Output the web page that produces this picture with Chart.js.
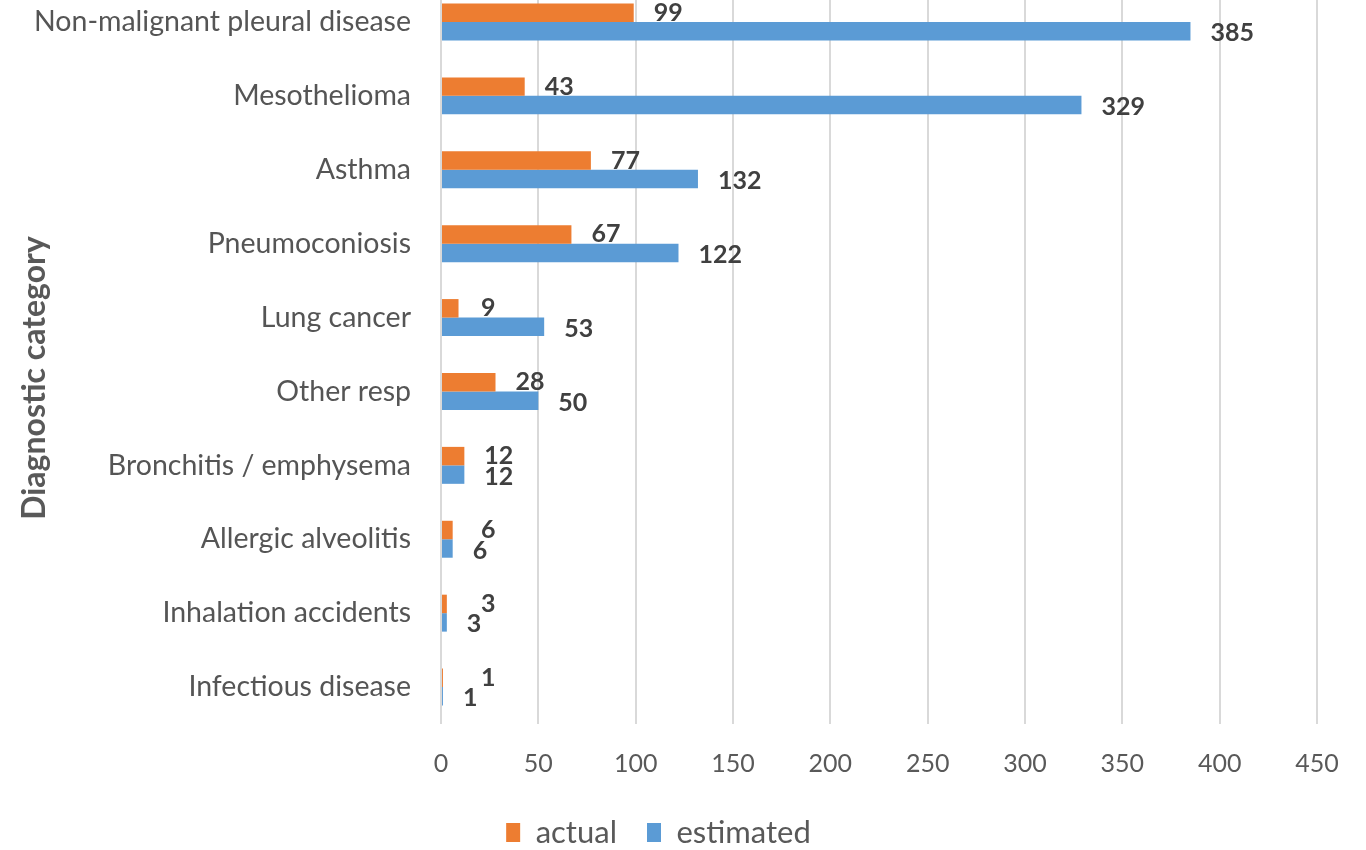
<!DOCTYPE html>
<html>
<head>
<meta charset="utf-8">
<script src="https://cdn.jsdelivr.net/npm/chart.js@4.4.1/dist/chart.umd.min.js"></script>
<style>
  html, body { margin: 0; padding: 0; background: #ffffff; overflow: hidden; }
  body { width: 1366px; height: 850px; position: relative; }
  #wrap { position: absolute; left: 0; top: -15px; width: 1366px; height: 873px; }
</style>
</head>
<body>
<div id="wrap"><canvas id="chart"></canvas></div>
<script>
// Diagnostic categories, top to bottom
const categories = [
  'Non-malignant pleural disease',
  'Mesothelioma',
  'Asthma',
  'Pneumoconiosis',
  'Lung cancer',
  'Other resp',
  'Bronchitis / emphysema',
  'Allergic alveolitis',
  'Inhalation accidents',
  'Infectious disease'
];
const actualCases = [99, 43, 77, 67, 9, 28, 12, 6, 3, 1];
const estimatedCases = [385, 329, 132, 122, 53, 50, 12, 6, 3, 1];
const seriesNames = ['actual', 'estimated'];
const axisTitle = 'Diagnostic category';
const xTicks = { min: 0, max: 450, step: 50 };

const ORANGE = '#ED7D31';
const BLUE = '#5B9BD5';
const FONT = 'Lato, "Open Sans", sans-serif';

// Value labels at the end of each bar; the "actual" labels keep clear of the axis
const valueLabels = {
  id: 'valueLabels',
  afterDatasetsDraw(chart) {
    const ctx = chart.ctx;
    const xs = chart.scales.x;
    const zeroX = xs.getPixelForValue(0);
    ctx.save();
    ctx.font = 'bold 25px ' + FONT;
    ctx.fillStyle = '#404040';
    ctx.textAlign = 'left';
    ctx.textBaseline = 'middle';
    chart.data.datasets.forEach((ds, di) => {
      const meta = chart.getDatasetMeta(di);
      meta.data.forEach((bar, i) => {
        const v = ds.data[i];
        let x = xs.getPixelForValue(v) + 20;
        let y = bar.y;
        if (di === 0) {
          x = Math.max(x, zeroX + 40);
        } else {
          y += 2;
        }
        ctx.fillText(String(v), x, y);
      });
    });
    ctx.restore();
  }
};

// Rotated title for the category axis
const categoryTitle = {
  id: 'categoryTitle',
  afterDraw(chart) {
    const ctx = chart.ctx;
    ctx.save();
    ctx.translate(35, 393);
    ctx.rotate(-Math.PI / 2);
    ctx.font = 'bold 32px ' + FONT;
    ctx.fillStyle = '#595959';
    ctx.textAlign = 'center';
    ctx.textBaseline = 'middle';
    ctx.fillText(axisTitle, 0, 0);
    ctx.restore();
  }
};

new Chart(document.getElementById('chart'), {
  type: 'bar',
  data: {
    labels: categories,
    datasets: [
      { label: seriesNames[0], data: actualCases, backgroundColor: ORANGE, borderWidth: 0 },
      { label: seriesNames[1], data: estimatedCases, backgroundColor: BLUE, borderWidth: 0 }
    ]
  },
  options: {
    indexAxis: 'y',
    responsive: true,
    maintainAspectRatio: false,
    animation: false,
    datasets: { bar: { categoryPercentage: 0.5, barPercentage: 1.0 } },
    layout: { padding: { left: 0, right: 49, top: 0, bottom: 0 } },
    scales: {
      x: {
        min: xTicks.min,
        max: xTicks.max,
        ticks: {
          stepSize: xTicks.step,
          color: '#595959',
          font: { family: FONT, size: 25 },
          padding: 25
        },
        grid: { color: '#D9D9D9', lineWidth: 2, drawTicks: false },
        border: { display: false },
        afterFit(scale) { scale.height = 63; }
      },
      y: {
        ticks: {
          color: '#555555',
          font: { family: FONT, size: 28.5 },
          padding: 30
        },
        grid: { display: false, drawTicks: false },
        border: { display: false },
        afterFit(scale) {
          scale.width = 441;
          scale.paddingTop = 0;
          scale.paddingBottom = 0;
        }
      }
    },
    plugins: {
      legend: {
        position: 'bottom',
        labels: {
          color: '#595959',
          font: { family: FONT, size: 31 },
          boxWidth: 14,
          boxHeight: 19,
          padding: 30
        }
      },
      tooltip: { enabled: false }
    }
  },
  plugins: [valueLabels, categoryTitle]
});
</script>
</body>
</html>
